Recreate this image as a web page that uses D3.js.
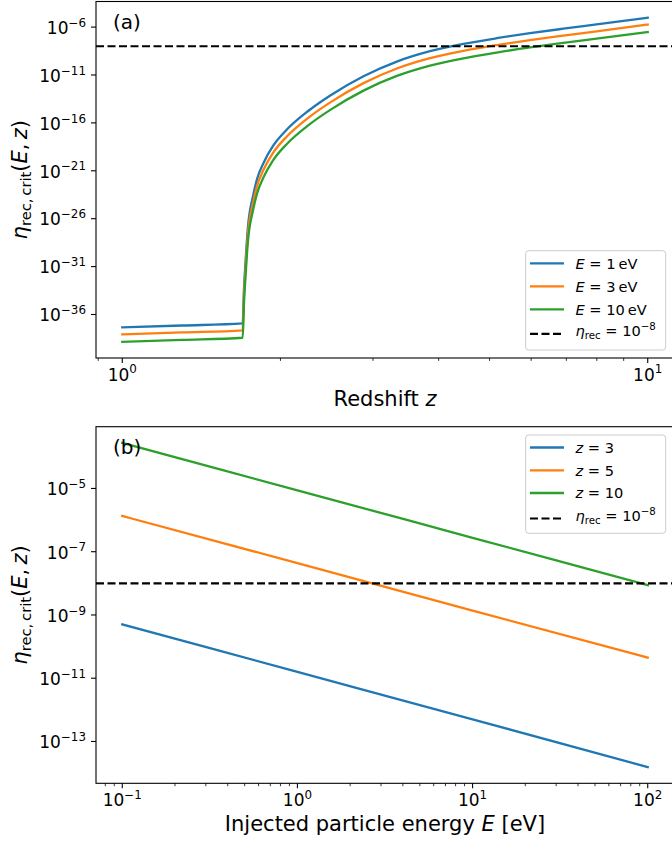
<!DOCTYPE html>
<html><head><meta charset="utf-8">
<script src="https://cdn.jsdelivr.net/npm/d3@7"></script>
<style>
body{margin:0;background:#fff}
svg{display:block;font-family:"DejaVu Sans",sans-serif}
</style>
</head><body>
<svg id="c" width="672" height="841"></svg>
<script>
// ---------- DATA (log10 of eta_rec,crit) ----------
const redshiftZ = [1.0, 1.3, 1.695, 1.705, 1.716, 1.733, 1.774, 1.805, 1.858, 1.936, 2.059, 2.262, 2.488, 2.878, 3.331, 3.853, 4.458, 5.160, 5.970, 6.905, 7.990, 10.0];
const logEtaE1  = [-37.35, -37.15, -36.93, -33.20, -30.58, -27.09, -23.60, -21.87, -20.15, -18.41, -16.67, -14.73, -13.14, -11.13, -9.60, -8.52, -7.76, -7.16, -6.64, -6.17, -5.72, -5.02];
const logEtaE3  = [-38.07, -37.87, -37.65, -33.92, -31.30, -27.81, -24.32, -22.59, -20.87, -19.13, -17.39, -15.45, -13.86, -11.85, -10.32, -9.24, -8.48, -7.88, -7.36, -6.89, -6.44, -5.74];
const logEtaE10 = [-38.85, -38.65, -38.43, -34.70, -32.08, -28.59, -25.10, -23.37, -21.65, -19.91, -18.17, -16.23, -14.64, -12.63, -11.10, -10.02, -9.26, -8.66, -8.12, -7.65, -7.21, -6.52];

const energyE   = [0.1, 1, 10, 100];
const logEtaZ3  = [-9.30, -10.80, -12.30, -13.81];
const logEtaZ5  = [-5.87, -7.36, -8.86, -10.35];
const logEtaZ10 = [-3.56, -5.06, -6.56, -8.06];

const etaRecLog = -8;

const topLegendValues = ["1", "3", "10"];      // E = ... eV
const bottomLegendValues = ["3", "5", "10"];   // z = ...
const topXTickExps = [0, 1];
const topYTickExps = [-36, -31, -26, -21, -16, -11, -6];
const botXTickExps = [-1, 0, 1, 2];
const botYTickExps = [-13, -11, -9, -7, -5];
const colors = ["#1f77b4", "#ff7f0e", "#2ca02c"];

// ---------- LAYOUT ----------
const svg = d3.select("#c");
const LEFT = 96, RIGHT = 674;
const TICK_FS = 17, LEG_FS = 14.6, LABEL_FS = 21;

function sup(t, exp, fs) {
  t.append("tspan").text("10");
  t.append("tspan").attr("dy", -0.42 * fs).attr("font-size", fs * 0.7)
    .text(exp < 0 ? "\u2212" + Math.abs(exp) : String(exp));
}

function panel(cfg) {
  const g = svg.append("g");
  const allY = cfg.series.flat();
  const yMin = d3.min(allY), yMax = d3.max(allY), yPad = 0.05 * (yMax - yMin);
  const lx = cfg.xs.map(Math.log10);
  const xMin = d3.min(lx), xMax = d3.max(lx), xPad = 0.05 * (xMax - xMin);
  const x = d3.scaleLog().domain([10 ** (xMin - xPad), 10 ** (xMax + xPad)]).range([LEFT, RIGHT]);
  const y = d3.scaleLog().domain([10 ** (yMin - yPad), 10 ** (yMax + yPad)]).range([cfg.bottom, cfg.top]);

  // series
  const line = d3.line().x(d => x(d[0])).y(d => y(10 ** d[1])).curve(d3.curveMonotoneX);
  cfg.series.forEach((s, i) => {
    g.append("path").datum(cfg.xs.map((v, j) => [v, s[j]]))
      .attr("d", line).attr("fill", "none").attr("stroke", colors[i])
      .attr("stroke-width", 2.3).attr("stroke-linejoin", "round").attr("stroke-linecap", "square");
  });
  // threshold
  g.append("line").attr("x1", LEFT).attr("x2", RIGHT)
    .attr("y1", y(10 ** etaRecLog)).attr("y2", y(10 ** etaRecLog))
    .attr("stroke", "#000").attr("stroke-width", 2.2).attr("stroke-dasharray", "8,3.5");

  // frame
  g.append("rect").attr("x", LEFT).attr("y", cfg.top).attr("width", RIGHT - LEFT)
    .attr("height", cfg.bottom - cfg.top).attr("fill", "none").attr("stroke", "#000").attr("stroke-width", 1.1);

  // x ticks
  const [d0, d1] = x.domain();
  const minors = [];
  for (let e = Math.floor(Math.log10(d0)); e <= Math.ceil(Math.log10(d1)); e++)
    for (let m = 2; m <= 9; m++) { const v = m * 10 ** e; if (v >= d0 && v <= d1) minors.push(v); }
  g.selectAll(null).data(minors).enter().append("line")
    .attr("x1", d => x(d)).attr("x2", d => x(d)).attr("y1", cfg.bottom).attr("y2", cfg.bottom + 2.9)
    .attr("stroke", "#000").attr("stroke-width", 0.8);
  cfg.xTicks.forEach(e => {
    const px = x(10 ** e);
    g.append("line").attr("x1", px).attr("x2", px).attr("y1", cfg.bottom).attr("y2", cfg.bottom + 5)
      .attr("stroke", "#000").attr("stroke-width", 1.1);
    const t = g.append("text").attr("x", px).attr("y", cfg.bottom + 22.5).attr("text-anchor", "middle")
      .attr("font-size", TICK_FS);
    sup(t, e, TICK_FS);
  });
  // y ticks
  cfg.yTicks.forEach(e => {
    const py = y(10 ** e);
    g.append("line").attr("x1", LEFT - 5).attr("x2", LEFT).attr("y1", py).attr("y2", py)
      .attr("stroke", "#000").attr("stroke-width", 1.1);
    const t = g.append("text").attr("x", LEFT - 10).attr("y", py + 6.8).attr("text-anchor", "end")
      .attr("font-size", TICK_FS);
    sup(t, e, TICK_FS);
  });

  // x label
  const xl = g.append("text").attr("x", (LEFT + RIGHT) / 2).attr("y", cfg.bottom + 47.5)
    .attr("text-anchor", "middle").attr("font-size", LABEL_FS);
  cfg.xLabel(xl);

  // y label
  const cy = (cfg.top + cfg.bottom) / 2;
  const yl = g.append("text").attr("transform", `translate(27,${cy}) rotate(-90)`)
    .attr("text-anchor", "middle").attr("font-size", LABEL_FS);
  yl.append("tspan").attr("font-style", "italic").text("\u03b7");
  yl.append("tspan").attr("font-size", LABEL_FS * 0.7).attr("dy", 4).text("rec,\u2009crit");
  yl.append("tspan").attr("dy", -4).text("(");
  yl.append("tspan").attr("font-style", "italic").text("E");
  yl.append("tspan").text(",\u2009");
  yl.append("tspan").attr("font-style", "italic").text("z");
  yl.append("tspan").text(")");

  // panel tag
  g.append("text").attr("x", 113).attr("y", cfg.top + 27.3).attr("font-size", 20).text(cfg.tag);

  // legend
  const L = cfg.legend;
  g.append("rect").attr("x", 525.7).attr("y", L.top).attr("width", 140).attr("height", L.bottom - L.top)
    .attr("rx", 3).attr("fill", "#fff").attr("fill-opacity", 0.8).attr("stroke", "#cccccc").attr("stroke-width", 1);
  L.rows.forEach((ry, i) => {
    const ln = g.append("line").attr("x1", 530).attr("x2", 564).attr("y1", ry).attr("y2", ry)
      .attr("stroke-width", 2.3);
    const t = g.append("text").attr("x", 575.5).attr("font-size", LEG_FS);
    if (i < 3) {
      ln.attr("stroke", colors[i]);
      t.attr("y", ry + 5.2);
      cfg.legendText(t, i);
    } else {
      ln.attr("stroke", "#000").attr("stroke-dasharray", "8,3.5").attr("stroke-width", 2.2);
      t.attr("y", ry + 2.6);
      t.append("tspan").attr("font-style", "italic").text("\u03b7");
      t.append("tspan").attr("font-size", LEG_FS * 0.7).attr("dy", 3).text("rec");
      t.append("tspan").attr("dy", -3).text(" = 10");
      t.append("tspan").attr("font-size", LEG_FS * 0.7).attr("dy", -6.3).text("\u2212" + Math.abs(etaRecLog));
    }
  });
}

panel({
  top: 1.5, bottom: 358, tag: "(a)",
  xs: redshiftZ, series: [logEtaE1, logEtaE3, logEtaE10],
  xTicks: topXTickExps, yTicks: topYTickExps,
  xLabel: t => { t.append("tspan").text("Redshift "); t.append("tspan").attr("font-style", "italic").text("z"); },
  legend: { top: 250.7, bottom: 350, rows: [263.3, 286.3, 309.3, 333.8] },
  legendText: (t, i) => {
    t.append("tspan").attr("font-style", "italic").text("E");
    t.append("tspan").text(" = " + topLegendValues[i] + "\u2009eV");
  }
});

panel({
  top: 426.7, bottom: 783.3, tag: "(b)",
  xs: energyE, series: [logEtaZ3, logEtaZ5, logEtaZ10],
  xTicks: botXTickExps, yTicks: botYTickExps,
  xLabel: t => {
    t.append("tspan").text("Injected particle energy ");
    t.append("tspan").attr("font-style", "italic").text("E");
    t.append("tspan").text(" [eV]");
  },
  legend: { top: 435, bottom: 533.3, rows: [447.5, 470.3, 493, 518.5] },
  legendText: (t, i) => {
    t.append("tspan").attr("font-style", "italic").text("z");
    t.append("tspan").text(" = " + bottomLegendValues[i]);
  }
});
</script>
</body></html>
